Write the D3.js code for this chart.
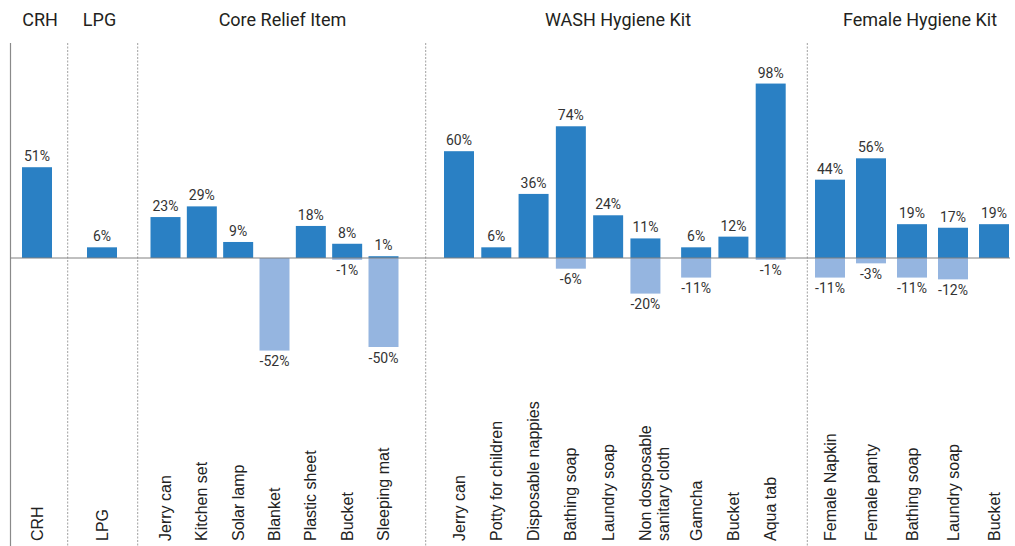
<!DOCTYPE html>
<html>
<head>
<meta charset="utf-8">
<script src="https://cdn.jsdelivr.net/npm/d3@7"></script>
<style>
  html, body { margin: 0; padding: 0; background: #ffffff; }
  svg { display: block; }
</style>
</head>
<body>
<div id="chart"></div>
<script>
// ---------------- data ----------------
const groupNames = ["CRH", "LPG", "Core Relief Item", "WASH Hygiene Kit", "Female Hygiene Kit"];
const categories = [
  "CRH",
  "LPG",
  "Jerry can", "Kitchen set", "Solar lamp", "Blanket", "Plastic sheet", "Bucket", "Sleeping mat",
  "Jerry can", "Potty for children", "Disposable nappies", "Bathing soap", "Laundry soap",
  "Non dosposable\nsanitary cloth", "Gamcha", "Bucket", "Aqua tab",
  "Female Napkin", "Female panty", "Bathing soap", "Laundry soap", "Bucket"
];
const categoryGroup = [0, 1, 2, 2, 2, 2, 2, 2, 2, 3, 3, 3, 3, 3, 3, 3, 3, 3, 4, 4, 4, 4, 4];
const increaseValues = [51, 6, 23, 29, 9, null, 18, 8, 1, 60, 6, 36, 74, 24, 11, 6, 12, 98, 44, 56, 19, 17, 19];
const decreaseValues = [null, null, null, null, null, -52, null, -1, -50, null, null, null, -6, null, -20, -11, null, -1, -11, -3, -11, -12, null];

// ---------------- layout ----------------
const W = 1015, H = 546;
const groupSpan = [[37, 37], [102, 102], [165.5, 383.5], [459, 770.7], [830, 994]];
const headerX = [40, 99.5, 282.5, 618, 920];
const dividerX = [67.7, 137.7, 425.7, 807.3];
const solidX = 10.5;
const lineTop = 43;
const barW = 30;
const labelBottom = 541;
const colPos = "#2a80c4";
const colNeg = "#95b5e0";

const svg = d3.select("#chart").append("svg")
  .attr("width", W).attr("height", H)
  .attr("viewBox", `0 0 ${W} ${H}`);
svg.append("rect").attr("width", W).attr("height", H).attr("fill", "#fff");

const y = d3.scaleLinear().domain([0, 100]).range([258, 258 - 178]);

// x position: per-group linear scale over slot units (wrapped labels take extra room)
const slotUnit = new Array(categories.length);
const groupMaxUnit = groupNames.map(() => 0);
groupNames.forEach((g, gi) => {
  let u = 0, prev = null;
  categories.forEach((c, i) => {
    if (categoryGroup[i] !== gi) return;
    if (prev !== null) u += 1 + 0.36 * (categories[prev].split("\n").length - 1);
    slotUnit[i] = u;
    prev = i;
  });
  groupMaxUnit[gi] = u;
});
const groupScales = groupNames.map((g, gi) =>
  d3.scaleLinear().domain([0, groupMaxUnit[gi]]).range(groupSpan[gi]));
const cx = i => groupScales[categoryGroup[i]](slotUnit[i]);

const rows = categories.map((c, i) => ({ i, c, inc: increaseValues[i], dec: decreaseValues[i] }));

// dividers
svg.append("line")
  .attr("x1", solidX).attr("x2", solidX).attr("y1", lineTop).attr("y2", H)
  .attr("stroke", "#8a8a8a").attr("stroke-width", 1.2);
svg.selectAll("line.div").data(dividerX).join("line")
  .attr("class", "div")
  .attr("x1", d => d).attr("x2", d => d).attr("y1", lineTop).attr("y2", H)
  .attr("stroke", "#a0a0a0").attr("stroke-width", 1).attr("stroke-dasharray", "2,1.5");

// bars
svg.selectAll("rect.neg").data(rows.filter(r => r.dec != null)).join("rect")
  .attr("class", "neg")
  .attr("x", r => cx(r.i) - barW / 2).attr("width", barW)
  .attr("y", y(0)).attr("height", r => y(r.dec) - y(0))
  .attr("fill", colNeg);
svg.selectAll("rect.pos").data(rows.filter(r => r.inc != null)).join("rect")
  .attr("class", "pos")
  .attr("x", r => cx(r.i) - barW / 2).attr("width", barW)
  .attr("y", r => y(r.inc)).attr("height", r => y(0) - y(r.inc))
  .attr("fill", colPos);

// baseline
svg.append("line")
  .attr("x1", solidX).attr("x2", 1010).attr("y1", y(0)).attr("y2", y(0))
  .attr("stroke", "#808080").attr("stroke-width", 1);

// value labels
const valFont = "Roboto, 'Noto Sans', sans-serif";
svg.selectAll("text.vpos").data(rows.filter(r => r.inc != null)).join("text")
  .attr("class", "vpos")
  .attr("x", r => cx(r.i)).attr("y", r => y(r.inc) - 6)
  .attr("text-anchor", "middle")
  .style("font-family", valFont).style("font-size", "14px").attr("fill", "#333")
  .text(r => r.inc + "%");
svg.selectAll("text.vneg").data(rows.filter(r => r.dec != null)).join("text")
  .attr("class", "vneg")
  .attr("x", r => cx(r.i)).attr("y", r => y(r.dec) + 15.5)
  .attr("text-anchor", "middle")
  .style("font-family", valFont).style("font-size", "14px").attr("fill", "#333")
  .text(r => r.dec + "%");

// headers
svg.selectAll("text.head").data(groupNames).join("text")
  .attr("class", "head")
  .attr("x", (d, i) => headerX[i]).attr("y", 26)
  .attr("text-anchor", "middle")
  .style("font-family", valFont).style("font-size", "18px").attr("fill", "#231f20")
  .text(d => d);

// category labels (rotated)
const cat = svg.selectAll("text.cat").data(rows).join("text")
  .attr("class", "cat")
  .attr("transform", r => `translate(${cx(r.i)},${labelBottom}) rotate(-90)`)
  .attr("text-anchor", "start")
  .style("font-family", "'Liberation Sans', Arial, sans-serif").style("font-size", "16px")
  .attr("fill", "#222");
cat.each(function (r) {
  const lines = r.c.split("\n");
  const t = d3.select(this);
  lines.forEach((ln, k) => {
    t.append("tspan").attr("x", 0)
      .attr("dy", k === 0 ? "0.35em" : "1.15em")
      .text(ln);
  });
});
</script>
</body>
</html>
